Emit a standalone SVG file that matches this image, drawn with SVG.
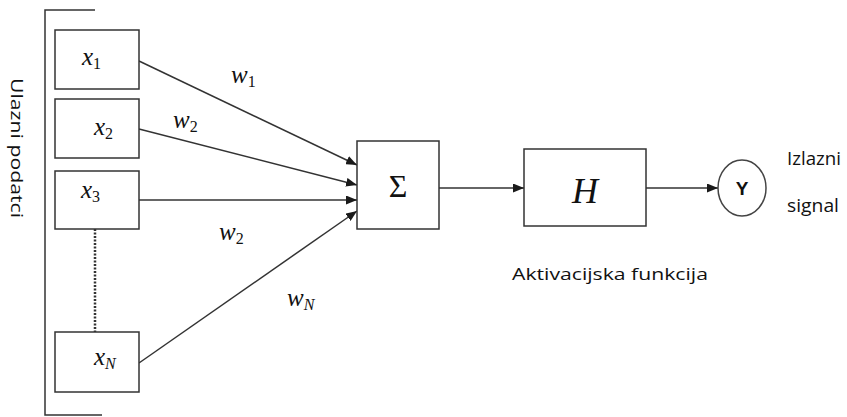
<svg xmlns="http://www.w3.org/2000/svg" width="847" height="417" viewBox="0 0 847 417">
<defs>
<marker id="ah" markerWidth="11" markerHeight="9" refX="11" refY="4.5" orient="auto" markerUnits="userSpaceOnUse">
<path d="M0,0 L11,4.5 L0,9 Z" fill="#1a1a1a"/>
</marker>
<style>
.box{fill:#fff;stroke:#333;stroke-width:1.5}
.conn{stroke:#333;stroke-width:1.5;fill:none}
.m{font-family:"Liberation Serif",serif;font-style:italic;font-size:25px;fill:#111}
.sub{font-style:normal;font-size:16px}
.subi{font-style:italic;font-size:16px}
.lbl{font-family:"Open Sans","Noto Sans",sans-serif;font-size:17px;fill:#111}
</style>
</defs>
<rect width="847" height="417" fill="#fff"/>
<g id="bracket">
<path class="conn" d="M95,10 H45 V415 H102"/>
<text class="lbl" transform="translate(11,78) rotate(90)" textLength="140" lengthAdjust="spacingAndGlyphs">Ulazni podatci</text>
</g>
<g id="connectors">
<line class="conn" x1="139" y1="61" x2="357" y2="165" marker-end="url(#ah)"/>
<line class="conn" x1="139" y1="129" x2="357" y2="185" marker-end="url(#ah)"/>
<line class="conn" x1="139" y1="200" x2="357" y2="200" marker-end="url(#ah)"/>
<line class="conn" x1="139" y1="363" x2="357" y2="211" marker-end="url(#ah)"/>
<line x1="95" y1="229" x2="95" y2="332" stroke-dasharray="2,1.5" stroke-width="2.5" stroke="#333"/>
<line class="conn" x1="439" y1="188" x2="524" y2="188" marker-end="url(#ah)"/>
<line class="conn" x1="646" y1="188" x2="718" y2="188" marker-end="url(#ah)"/>
</g>
<g id="x1"><rect class="box" x="55" y="30" width="84" height="59"/><text class="m" x="82" y="65">x<tspan class="sub" dy="4">1</tspan></text></g>
<g id="x2"><rect class="box" x="55" y="99" width="84" height="59"/><text class="m" x="94" y="135">x<tspan class="sub" dy="4">2</tspan></text></g>
<g id="x3"><rect class="box" x="55" y="171" width="84" height="58"/><text class="m" x="81" y="198">x<tspan class="sub" dy="4">3</tspan></text></g>
<g id="xN"><rect class="box" x="55" y="332" width="84" height="60"/><text class="m" x="94" y="365">x<tspan class="subi" dy="4">N</tspan></text></g>
<g id="weights">
<text class="m" x="231" y="83">w<tspan class="sub" dy="4">1</tspan></text>
<text class="m" x="173" y="128">w<tspan class="sub" dy="4">2</tspan></text>
<text class="m" x="219" y="240">w<tspan class="sub" dy="4">2</tspan></text>
<text class="m" x="287" y="306">w<tspan class="subi" dy="4">N</tspan></text>
</g>
<g id="sum"><rect class="box" x="357" y="141" width="82" height="88"/><text x="398" y="197" text-anchor="middle" font-family="Liberation Serif,serif" font-size="32" fill="#111">Σ</text></g>
<g id="H"><rect class="box" x="524" y="149" width="122" height="77"/><text class="m" x="585" y="203" text-anchor="middle" style="font-size:36px">H</text>
<text class="lbl" x="512" y="280" textLength="196" lengthAdjust="spacingAndGlyphs">Aktivacijska funkcija</text></g>
<g id="Y"><ellipse cx="742" cy="188" rx="24" ry="28" fill="#fff" stroke="#444" stroke-width="1.5"/><text x="742" y="195" text-anchor="middle" font-family="Liberation Sans,sans-serif" font-weight="bold" font-size="19" fill="#111">Y</text>
<text class="lbl" x="787" y="165" style="font-size:18px" textLength="54" lengthAdjust="spacingAndGlyphs">Izlazni</text>
<text class="lbl" x="787" y="212" style="font-size:18px" textLength="52" lengthAdjust="spacingAndGlyphs">signal</text></g>
</svg>
